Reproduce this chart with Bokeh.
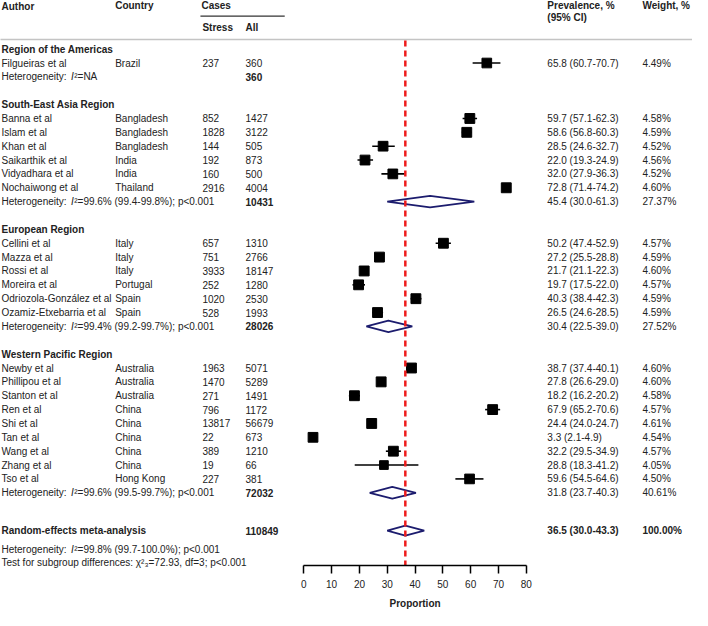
from bokeh.plotting import figure
from bokeh.models import Range1d, ColumnDataSource, FixedTicker, LinearAxis
from bokeh.core.properties import value
from bokeh.embed import file_html
from bokeh.resources import INLINE

# ---------------- data ----------------
region_names = ["Region of the Americas", "South-East Asia Region",
                "European Region", "Western Pacific Region"]

authors = ["Filgueiras et al",
           "Banna et al", "Islam et al", "Khan et al", "Saikarthik et al", "Vidyadhara  et al", "Nochaiwong  et al",
           "Cellini et al", "Mazza et al", "Rossi et al", "Moreira  et al", "Odriozola-González  et al", "Ozamiz-Etxebarria  et al",
           "Newby et al", "Phillipou et al", "Stanton et al", "Ren et al", "Shi et al", "Tan et al", "Wang et al", "Zhang  et al", "Tso et al"]
countries = ["Brazil",
             "Bangladesh", "Bangladesh", "Bangladesh", "India", "India", "Thailand",
             "Italy", "Italy", "Italy", "Portugal", "Spain", "Spain",
             "Australia", "Australia", "Australia", "China", "China", "China", "China", "China", "Hong Kong"]
region_idx = [0,
              1, 1, 1, 1, 1, 1,
              2, 2, 2, 2, 2, 2,
              3, 3, 3, 3, 3, 3, 3, 3, 3]
stress_cases = [237,
                852, 1828, 144, 192, 160, 2916,
                657, 751, 3933, 252, 1020, 528,
                1963, 1470, 271, 796, 13817, 22, 389, 19, 227]
all_cases = [360,
             1427, 3122, 505, 873, 500, 4004,
             1310, 2766, 18147, 1280, 2530, 1993,
             5071, 5289, 1491, 1172, 56679, 673, 1210, 66, 381]
prevalence = [65.8,
              59.7, 58.6, 28.5, 22.0, 32.0, 72.8,
              50.2, 27.2, 21.7, 19.7, 40.3, 26.5,
              38.7, 27.8, 18.2, 67.9, 24.4, 3.3, 32.2, 28.8, 59.6]
ci_low = [60.7,
          57.1, 56.8, 24.6, 19.3, 27.9, 71.4,
          47.4, 25.5, 21.1, 17.5, 38.4, 24.6,
          37.4, 26.6, 16.2, 65.2, 24.0, 2.1, 29.5, 18.3, 54.5]
ci_high = [70.7,
           62.3, 60.3, 32.7, 24.9, 36.3, 74.2,
           52.9, 28.8, 22.3, 22.0, 42.3, 28.5,
           40.1, 29.0, 20.2, 70.6, 24.7, 4.9, 34.9, 41.2, 64.6]
weights = [4.49,
           4.58, 4.59, 4.52, 4.56, 4.52, 4.60,
           4.57, 4.59, 4.60, 4.57, 4.59, 4.59,
           4.60, 4.60, 4.58, 4.57, 4.61, 4.54, 4.57, 4.05, 4.50]

sub_total = [360, 10431, 28026, 72032]
sub_prev = [None, 45.4, 30.4, 31.8]
sub_low = [None, 30.0, 22.5, 23.7]
sub_high = [None, 61.3, 39.0, 40.3]
sub_weight = [None, 27.37, 27.52, 40.61]
sub_het = ["NA", "99.6% (99.4-99.8%);  p<0.001", "99.4% (99.2-99.7%);  p<0.001",
           "99.6% (99.5-99.7%);  p<0.001"]

overall_total = 110849
overall_prev = 36.5
overall_low = 30.0
overall_high = 43.3
overall_weight = 100.00
overall_het = "99.8% (99.7-100.0%);  p<0.001"
subgroup_test = "\u03c7\u00b2\u2083=72.93, df=3; p<0.001"

axis_ticks = [0, 10, 20, 30, 40, 50, 60, 70, 80]

# ---------------- layout helpers ----------------
PX0, PXU = 310.5, 2.8375      # pixel of 0 and pixels per unit on the proportion scale
ROW0, ROWH = 50.0, 14.25      # pixel of first row and row height


def xu(px):
    return (px - PX0) / PXU


def ry(py):
    return (py - ROW0) / ROWH


FONT = "Liberation Sans"
FS = "10px"
TXT = "#222222"
NAVY = "#1c1c6e"

C_AUTH, C_CTRY, C_STR, C_ALL, C_PREV, C_W = 2, 118, 207, 251, 559, 656
I_PX = 73

p = figure(width=692, height=610, output_backend="svg", toolbar_location=None,
           x_range=Range1d(xu(0.98), xu(707.1)), y_range=Range1d(ry(627), ry(0)),
           x_axis_type=None, y_axis_type=None, min_border=0)
p.outline_line_color = None
p.background_fill_color = "white"

texts = {"normal": ([], [], []), "bold": ([], [], []), "italic": ([], [], [])}


def add(style, px, row, txt):
    xs, ys, ts = texts[style]
    xs.append(xu(px))
    ys.append(row)
    ts.append(txt)


def add_het(row, het):
    add("normal", C_AUTH, row, "Heterogeneity:")
    add("italic", I_PX, row, "I")
    add("normal", I_PX + 3.2, row, "\u00b2=" + het)


# header
add("bold", C_AUTH, ry(6), "Author")
add("bold", C_CTRY, ry(5), "Country")
add("bold", 206, ry(5), "Cases")
add("bold", C_STR, ry(28), "Stress")
add("bold", C_ALL, ry(28), "All")
add("bold", C_PREV, ry(5), "Prevalence, %")
add("bold", C_PREV, ry(17), "(95%  CI)")
add("bold", C_W, ry(5), "Weight, %")

p.segment(x0=[xu(205)], y0=[ry(16)], x1=[xu(291)], y1=[ry(16)], line_color="#333333", line_width=1.2)
p.segment(x0=[xu(0)], y0=[ry(40)], x1=[xu(708)], y1=[ry(40)], line_color="#c4c4c4", line_width=1.5)

study_rows = []
dia_xs, dia_ys = [], []
row = 0
for g, name in enumerate(region_names):
    add("bold", C_AUTH, row, name)
    idxs = [i for i in range(len(authors)) if region_idx[i] == g]
    for k, i in enumerate(idxs):
        r = row + 1 + k
        study_rows.append(r)
        add("normal", C_AUTH, r, authors[i])
        add("normal", C_CTRY, r, countries[i])
        add("normal", C_STR, r, str(stress_cases[i]))
        add("normal", C_ALL, r, str(all_cases[i]))
        add("normal", C_PREV, r, f"{prevalence[i]:.1f} ({ci_low[i]:.1f}-{ci_high[i]:.1f})")
        add("normal", C_W, r, f"{weights[i]:.2f}%")
    het_row = row + len(idxs) + 1
    add_het(het_row, sub_het[g])
    add("bold", C_ALL, het_row, str(sub_total[g]))
    if sub_prev[g] is not None:
        add("normal", C_PREV, het_row, f"{sub_prev[g]:.1f} ({sub_low[g]:.1f}-{sub_high[g]:.1f})")
        add("normal", C_W, het_row, f"{sub_weight[g]:.2f}%")
        h = 0.42
        dia_xs.append([sub_low[g], sub_prev[g], sub_high[g], sub_prev[g]])
        dia_ys.append([het_row, het_row - h, het_row, het_row + h])
    row = het_row + 2

ov_row = ry(545)
add("bold", C_AUTH, ov_row, "Random-effects  meta-analysis")
add("bold", C_ALL, ov_row, str(overall_total))
add("bold", C_PREV, ov_row, f"{overall_prev:.1f} ({overall_low:.1f}-{overall_high:.1f})")
add("bold", C_W, ov_row, f"{overall_weight:.2f}%")
h = 0.36
dia_xs.append([overall_low, overall_prev, overall_high, overall_prev])
dia_ys.append([ov_row, ov_row - h, ov_row, ov_row + h])
add_het(ry(564), overall_het)
add("normal", C_AUTH, ry(578), "Test for  subgroup differences:  " + subgroup_test)

# study CIs and squares
src = ColumnDataSource(dict(y=study_rows, est=prevalence, lo=ci_low, hi=ci_high,
                            size=[w * 2.15 for w in weights]))
p.segment(x0="lo", y0="y", x1="hi", y1="y", source=src, line_color="black", line_width=1.6)
p.scatter(x="est", y="y", size="size", marker="square", source=src,
          fill_color="black", line_color="black")

# diamonds
p.patches(xs=dia_xs, ys=dia_ys, fill_color=None, line_color=NAVY, line_width=1.8)

# overall reference line
p.segment(x0=[overall_prev], y0=[ry(41)], x1=[overall_prev], y1=[ry(581)],
          line_color="#ee1c1c", line_width=2.5, line_dash="6 4")

# texts
for style, (xs, ys, ts) in texts.items():
    s = ColumnDataSource(dict(x=xs, y=ys, t=ts))
    p.text(x="x", y="y", text="t", source=s, text_font=value(FONT), text_font_size=FS,
           text_font_style=style, text_color=TXT, text_baseline="middle", text_align="left")

# x axis (Proportion)
ax = LinearAxis(fixed_location=ry(581), bounds=(axis_ticks[0], axis_ticks[-1]),
                ticker=FixedTicker(ticks=axis_ticks))
ax.major_tick_in = 0
ax.major_tick_out = 8
ax.minor_tick_in = 0
ax.minor_tick_out = 0
ax.axis_line_width = 1.5
ax.major_tick_line_width = 1.5
ax.axis_line_color = "black"
ax.major_tick_line_color = "black"
ax.major_label_text_font = FONT
ax.major_label_text_font_size = FS
ax.major_label_text_color = TXT
ax.major_label_standoff = 6
p.add_layout(ax, "below")

p.text(x=[(axis_ticks[0] + axis_ticks[-1]) / 2], y=[ry(620)], text=["Proportion"],
       text_font=value(FONT), text_font_size=FS, text_font_style="bold", text_color=TXT,
       text_baseline="middle", text_align="center")

open("out.html", "w").write(file_html(p, INLINE))
